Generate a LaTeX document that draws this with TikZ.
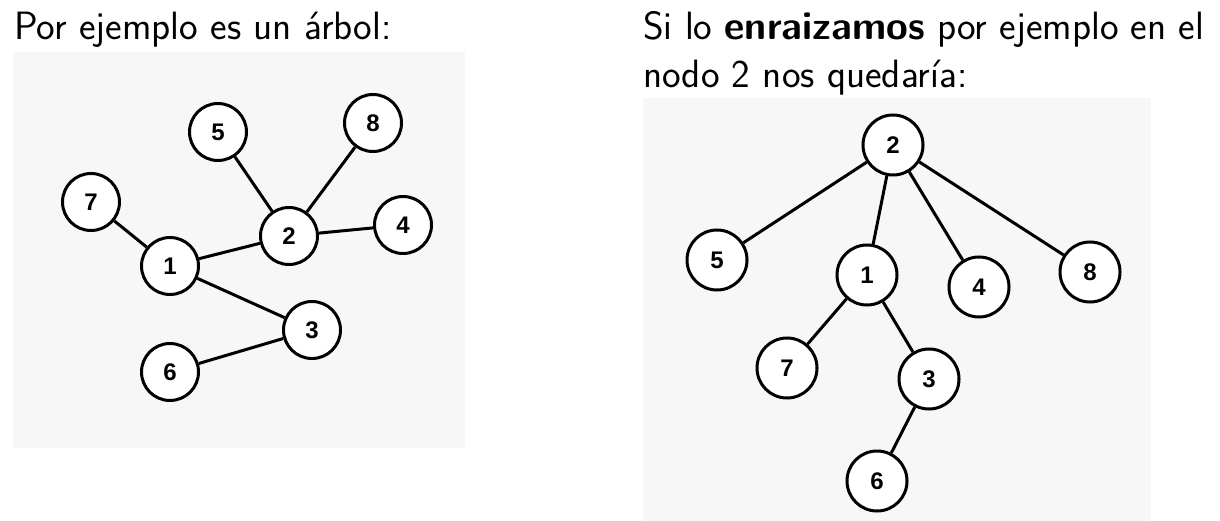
\documentclass[tikz,border=0pt]{standalone}
\usepackage{fontspec}
\newfontfamily\numfont{Liberation Sans}

\begin{document}
\begin{tikzpicture}[x=1pt,y=-1pt]
    \tikzstyle{vertex}=[draw, circle, line width=3pt, fill=white, minimum size=57pt, inner sep=0pt, font=\numfont\bfseries\fontsize{24}{24}\selectfont]
    \tikzstyle{big vertex}=[vertex, minimum size=60pt]
    \tikzstyle{link}=[line width=3pt]
    \tikzstyle{panel}=[fill=black!3]
    \tikzstyle{title}=[anchor=base west, inner sep=0pt, font=\sffamily\fontsize{39.5}{48}\selectfont]

    \useasboundingbox (0,0) rectangle (1220,521);
    \fill[panel] (13,52) rectangle (465,448);
    \fill[panel] (643,98) rectangle (1151,521);

    \node[title] (T-left) at (14,40) {Por ejemplo es un árbol:};
    \node[title] (T-right-1) at (643,40) {Si lo \textbf{enraizamos} por ejemplo en el};
    \node[title] (T-right-2) at (643,88) {nodo 2 nos quedaría:};

    % free tree
    \foreach \name / \x / \y in {1/170/266, 2/289/236, 3/312/330, 4/403/225,
                                 5/218/132, 6/170/372, 7/91/202, 8/373/123}
        \node[vertex] (A-\name) at (\x,\y) {\name};

    \foreach \source / \dest in {7/1, 1/2, 5/2, 8/2, 2/4, 1/3, 3/6}
        \path[link] (A-\source) edge (A-\dest);

    % rooted at 2
    \foreach \name / \x / \y in {2/893/145, 5/717/260, 1/867/275, 4/979/287,
                                 8/1090/272, 7/787/368, 3/929/379, 6/877/481}
        \node[big vertex] (B-\name) at (\x,\y) {\name};

    \foreach \source / \dest in {2/5, 2/1, 2/4, 2/8, 1/7, 1/3, 3/6}
        \path[link] (B-\source) edge (B-\dest);
\end{tikzpicture}
\end{document}
